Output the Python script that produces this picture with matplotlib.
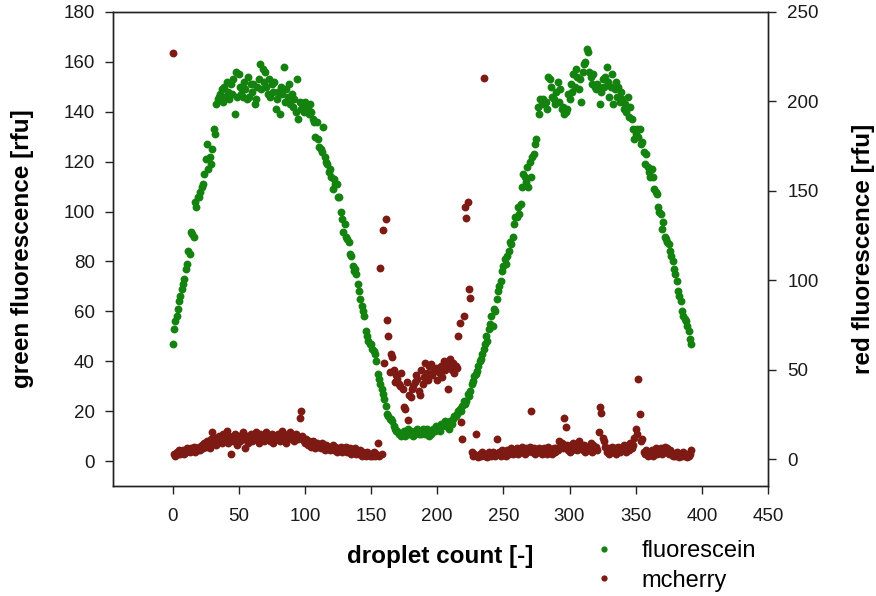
import matplotlib
matplotlib.use("Agg")
import matplotlib.pyplot as plt
from matplotlib.lines import Line2D
import numpy as np

plt.rcParams["font.family"] = ["Liberation Sans", "DejaVu Sans"]

GREEN = "#14820f"
RED = "#7d1a14"

# droplet index 0..392
droplet = np.arange(393)

fluorescein = [
    47, 53, 56, 58, 61, 64, 66, 69, 71, 73,
    77, 79, 84, 83, 92, 91, 90, 104, 102, 106,
    106, 108, 110, 111, 115, 121, 127, 117, 122, 119,
    125, 133, 131, 143, 145, 146, 147, 149, 144, 150,
    146, 152, 148, 145, 151, 147, 153, 139, 156, 146,
    155, 150, 147, 146, 152, 149, 145, 154, 146, 151,
    148, 151, 143, 145, 150, 153, 159, 149, 157, 152,
    156, 150, 147, 153, 146, 151, 148, 152, 141, 145,
    148, 139, 150, 147, 158, 144, 149, 146, 151, 143,
    147, 142, 145, 140, 153, 137, 144, 141, 143, 140,
    144, 142, 141, 139, 143, 140, 137, 136, 130, 136,
    129, 126, 125, 124, 134, 122, 120, 119, 116, 117,
    114, 109, 113, 111, 111, 106, 106, 100, 97, 92,
    95, 90, 89, 88, 83, 82, 78, 76, 77, 75,
    71, 68, 65, 62, 60, 58, 52, 50, 48, 47,
    47, 45, 44, 43, 40, 35, 33, 31, 29, 27,
    25, 22, 19, 18, 17, 17, 16, 14, 13, 12,
    12, 11, 11, 10, 11, 12, 10, 11, 13, 11,
    12, 11, 10, 11, 12, 13, 11, 12, 11, 13,
    12, 11, 13, 12, 10, 11, 12, 13, 12, 14,
    13, 14, 12, 15, 14, 15, 16, 14, 15, 13,
    16, 15, 17, 18, 18, 19, 20, 21, 20, 22,
    24, 23, 24, 27, 26, 28, 31, 32, 34, 35,
    36, 38, 40, 41, 43, 45, 47, 50, 48, 53,
    55, 58, 54, 61, 60, 65, 68, 70, 72, 76,
    78, 81, 79, 82, 84, 88, 87, 90, 95, 98,
    98, 102, 99, 103, 110, 115, 114, 112, 118, 110,
    120, 114, 122, 123, 127, 129, 142, 139, 145, 143,
    145, 144, 144, 141, 154, 153, 150, 146, 145, 143,
    148, 152, 144, 149, 141, 142, 139, 140, 141, 147,
    145, 151, 148, 155, 150, 157, 154, 149, 153, 144,
    156, 159, 160, 165, 164, 156, 154, 151, 155, 150,
    149, 151, 150, 143, 148, 153, 150, 154, 158, 152,
    146, 150, 155, 143, 149, 152, 146, 150, 144, 148,
    145, 141, 143, 140, 146, 138, 142, 137, 133, 129,
    131, 133, 130, 133, 127, 128, 124, 119, 123, 118,
    116, 114, 117, 114, 109, 108, 107, 102, 100, 99,
    93, 96, 90, 89, 88, 87, 84, 82, 80, 77,
    75, 72, 68, 66, 64, 60, 58, 57, 56, 54,
    52, 49, 47,
]

mcherry = [
    227, 3, 2, 4, 3, 5, 3, 4, 5, 3,
    4, 6, 5, 4, 6, 5, 7, 4, 6, 5,
    7, 5, 8, 6, 9, 7, 10, 8, 6, 11,
    15, 9, 12, 8, 11, 13, 10, 9, 14, 12,
    11, 16, 9, 13, 3, 12, 10, 14, 11, 8,
    13, 10, 12, 15, 11, 6, 13, 9, 12, 14,
    10, 13, 11, 15, 12, 9, 14, 11, 13, 10,
    12, 15, 11, 13, 10, 14, 9, 12, 13, 11,
    14, 10, 12, 16, 11, 13, 9, 14, 12, 15,
    11, 13, 10, 14, 12, 11, 23, 27, 13, 10,
    9, 11, 8, 10, 9, 7, 10, 8, 6, 9,
    7, 8, 6, 9, 7, 5, 8, 6, 7, 5,
    6, 8, 5, 7, 4, 6, 5, 7, 4, 6,
    5, 7, 4, 5, 6, 3, 5, 4, 6, 3,
    4, 3, 5, 2, 4, 3, 2, 4, 3, 2,
    3, 2, 4, 2, 3, 9, 2, 107, 3, 128,
    54, 134, 78, 69, 49, 59, 57, 50, 43, 47,
    45, 42, 41, 48, 39, 29, 28, 43, 22, 36,
    35, 39, 41, 43, 47, 45, 38, 36, 50, 42,
    46, 54, 48, 44, 52, 53, 47, 49, 50, 51,
    44, 49, 48, 52, 46, 55, 50, 52, 39, 53,
    56, 50, 54, 48, 52, 51, 69, 76, 21, 11,
    80, 141, 135, 144, 95, 90, 4, 2, 3, 14,
    2, 1, 3, 2, 4, 213, 2, 3, 1, 4,
    3, 2, 4, 3, 2, 11, 3, 4, 2, 5,
    3, 4, 2, 5, 3, 4, 6, 3, 5, 4,
    6, 3, 5, 4, 7, 5, 3, 6, 4, 5,
    7, 27, 4, 6, 3, 5, 4, 6, 5, 3,
    4, 6, 5, 3, 7, 4, 5, 3, 6, 4,
    6, 5, 10, 7, 9, 6, 23, 18, 8, 5,
    4, 7, 5, 9, 6, 8, 5, 10, 7, 6,
    5, 8, 4, 6, 7, 5, 9, 4, 8, 6,
    7, 5, 15, 29, 26, 12, 10, 7, 4, 6,
    3, 5, 7, 4, 6, 3, 5, 7, 4, 6,
    5, 8, 6, 4, 7, 5, 9, 6, 8, 12,
    17, 14, 45, 25, 10, 11, 4, 3, 5, 2,
    4, 3, 5, 2, 4, 6, 3, 5, 4, 6,
    3, 5, 7, 4, 6, 3, 5, 4, 2, 3,
    2, 4, 3, 1, 3, 2, 4, 2, 3, 1,
    2, 3, 5,
]

x_ticks = list(range(0, 451, 50))
green_ticks = list(range(0, 181, 20))
red_ticks = list(range(0, 251, 50))

fig = plt.figure(figsize=(8.76, 5.96), dpi=100)
ax = fig.add_axes([113 / 876, 1 - 486 / 596, (768 - 113) / 876, (486 - 12) / 596])
ax2 = ax.twinx()

ax.scatter(droplet, fluorescein, s=32, color=GREEN, linewidths=0, zorder=3)
ax2.scatter(droplet, mcherry, s=32, color=RED, linewidths=0, zorder=3)

ax.set_xlim(-45, 450)
ax.set_ylim(-10, 180)
ax2.set_ylim(-15, 250)
ax.set_xticks(x_ticks)
ax.set_yticks(green_ticks)
ax2.set_yticks(red_ticks)

for a in (ax, ax2):
    for sp in a.spines.values():
        sp.set_linewidth(1.0)
        sp.set_color("#222222")
ax.tick_params(axis="both", direction="out", length=6, width=1.0, labelsize=13.5,
               colors="#222222", labelcolor="#1a1a1a")
ax.tick_params(axis="x", pad=10)
ax.tick_params(axis="y", pad=7)
ax2.tick_params(axis="y", direction="out", length=6, width=1.0, labelsize=13.5,
                pad=8, colors="#222222", labelcolor="#1a1a1a")

ax.set_ylabel("green fluorescence [rfu]", fontsize=17.5, fontweight="bold", labelpad=21)
ax2.set_ylabel("red fluorescence [rfu]", fontsize=17.5, fontweight="bold", labelpad=24)
fig.text(440 / 876, 1 - 557 / 596, "droplet count [-]", fontsize=17.5, fontweight="bold",
         ha="center", va="center")

handles = [Line2D([], [], ls="none", marker="o", ms=4.5, color=GREEN, mew=0),
           Line2D([], [], ls="none", marker="o", ms=4.5, color=RED, mew=0)]
fig.legend(handles, ["fluorescein", "mcherry"], loc="center left",
           bbox_to_anchor=(571 / 876, 1 - 566 / 596), frameon=False, fontsize=17,
           handletextpad=1.1, labelspacing=0.3, handlelength=1.0)

fig.savefig("out.png", dpi=100)
